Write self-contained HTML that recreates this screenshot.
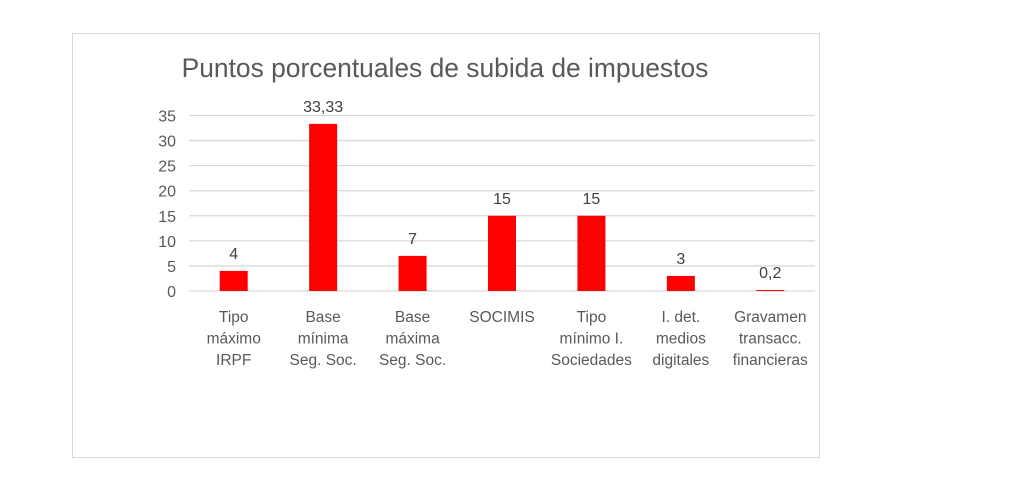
<!DOCTYPE html>
<html><head><meta charset="utf-8"><style>
body{margin:0;background:#fff;width:1012px;height:483px;overflow:hidden;font-family:"Liberation Sans",sans-serif}
</style></head><body>
<svg width="1012" height="483" style="position:absolute;left:0;top:0">
<rect x="72.5" y="33.5" width="747" height="424" fill="#fff" stroke="#d9d9d9"/>
<text x="445" y="77" text-anchor="middle" font-size="26.4" fill="#595959">Puntos porcentuales de subida de impuestos</text>
<g id="g"></g>
</svg>
<script>
const categories=[["Tipo","máximo","IRPF"],["Base","mínima","Seg. Soc."],["Base","máxima","Seg. Soc."],["SOCIMIS"],["Tipo","mínimo I.","Sociedades"],["I. det.","medios","digitales"],["Gravamen","transacc.","financieras"]];
const values=[4,33.33,7,15,15,3,0.2];
const labels=["4","33,33","7","15","15","3","0,2"];
const ticks=[0,5,10,15,20,25,30,35];
const NS="http://www.w3.org/2000/svg",g=document.getElementById("g");
const x0=189,x1=815,yb=291,yt=115.5,ymax=35;
const y=v=>yb-(v/ymax)*(yb-yt);
const step=(x1-x0)/categories.length;
const xc=i=>x0+step*(i+0.5);
function mk(t,a,txt){const e=document.createElementNS(NS,t);for(const k in a)e.setAttribute(k,a[k]);if(txt!==undefined)e.textContent=txt;g.appendChild(e);return e;}
ticks.forEach(t=>{
const l=mk("line",{x1:x0,x2:x1,y1:y(t),y2:y(t),stroke:"#d9d9d9","stroke-width":1.3});


const tx=mk("text",{x:176,y:y(t)+6,"text-anchor":"end","font-size":16,fill:"#595959"},String(t));


});
values.forEach((v,i)=>{
const b=mk("rect",{x:xc(i)-14,y:y(v),width:28,height:yb-y(v),fill:"#ff0000"});


const lb=mk("text",{x:xc(i),y:y(v)-12,"text-anchor":"middle","font-size":16,fill:"#404040"},labels[i]);


categories[i].forEach((s,j)=>{
const c=mk("text",{x:xc(i),y:322+j*21.5,"text-anchor":"middle","font-size":15.5,fill:"#595959"},s);


});
});
</script>
</body></html>
